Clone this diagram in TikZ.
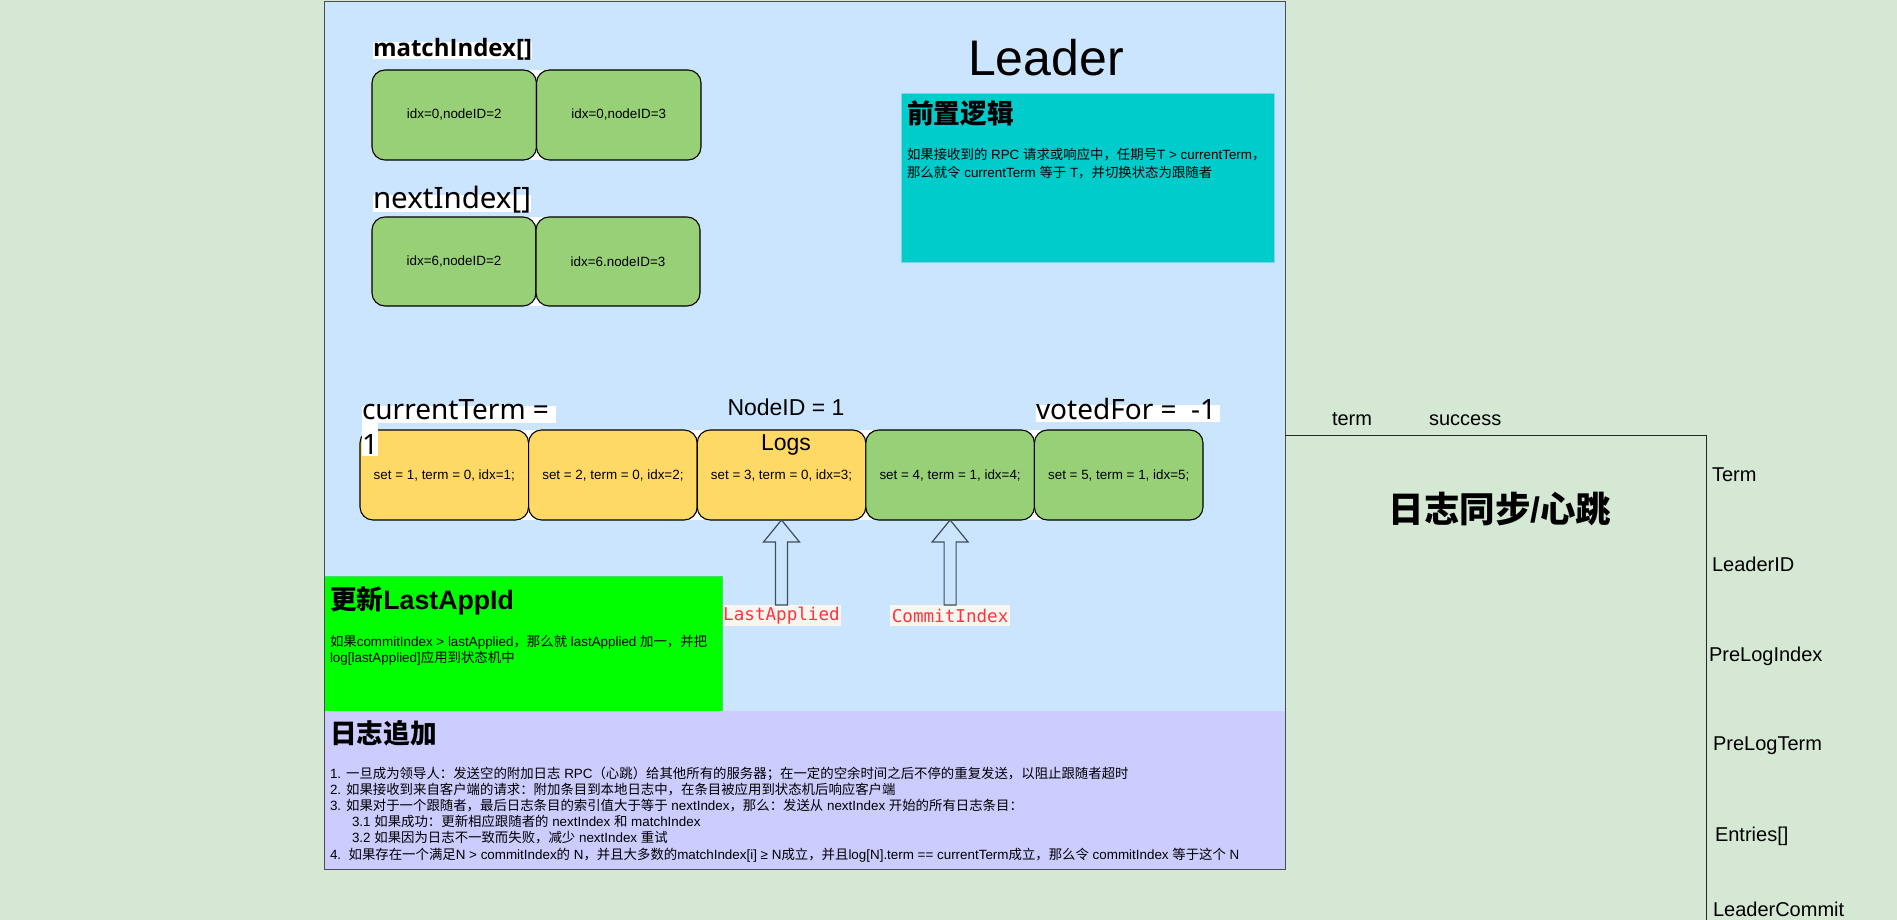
\documentclass[tikz,border=0pt]{standalone}
\usepackage{fontspec}
\setmainfont{Liberation Sans}
\newfontfamily\cjkfont{Noto Sans CJK SC}
\newfontfamily\latinfont{Liberation Sans}
\newfontfamily\uifont{Noto Sans}
\newfontfamily\uiboldfont{Open Sans}
\newfontfamily\codefont{DejaVu Sans Mono}
% automatic switch to the CJK font for CJK characters
\XeTeXinterchartokenstate=1
\newcount\cjkcnt
\def\setcjkrange#1#2{\cjkcnt=#1\relax
  \loop\ifnum\cjkcnt<#2\relax
    \XeTeXcharclass\cjkcnt=7\relax
    \advance\cjkcnt by 1\relax
  \repeat}
\setcjkrange{"4E00}{"A000}
\setcjkrange{"3000}{"3040}
\setcjkrange{"FF00}{"FFF0}
\XeTeXinterchartoks 0 7 = {\cjkfont}
\XeTeXinterchartoks 4095 7 = {\cjkfont}
\XeTeXinterchartoks 7 0 = {\latinfont}
\XeTeXinterchartoks 7 4095 = {\latinfont}

\definecolor{bgc}{HTML}{D5E8D4}
\definecolor{leaderfill}{HTML}{CCE5FF}
\definecolor{leaderdraw}{HTML}{4A4D52}
\definecolor{cellgreen}{HTML}{97D077}
\definecolor{cellyellow}{HTML}{FFD966}
\definecolor{cyanbox}{HTML}{00CCCC}
\definecolor{cyanedge}{HTML}{80D4E8}
\definecolor{limebox}{HTML}{00FF00}
\definecolor{limeedge}{HTML}{44DD66}
\definecolor{purplebox}{HTML}{CCCCFF}
\definecolor{codered}{HTML}{FF3340}
\definecolor{codebg}{HTML}{F8F6EE}
\definecolor{arrowc}{HTML}{3D4D5C}

\newcommand\fsz[2]{\fontsize{#1}{#2}\selectfont}
\newcommand\hlt[3]{\setbox0=\hbox{#3}\rlap{\smash{\textcolor{white}{\rule[-#2pt]{\wd0}{\dimexpr#1pt+#2pt\relax}}}}\box0}
\newcommand\mlines[1]{\vtop{\let\\\cr\halign{##\hfil\cr#1\crcr}}}

\begin{document}
\begin{tikzpicture}[x=1pt,y=-1pt,
  every node/.style={inner sep=0pt,outer sep=0pt},
  logcell/.style={draw=black,line width=1.1pt,rounded corners=13pt,minimum height=90pt,font=\fsz{13.4}{16}},
  greencell/.style={logcell,fill=cellgreen},
  yellowcell/.style={logcell,fill=cellyellow,minimum width=168.6pt},
  boxtitle/.style={anchor=base west,font=\bfseries\fsz{26.7}{32}},
  boxbody/.style={anchor=base west,font=\fsz{13.4}{16.2}},
  rlabel/.style={anchor=base west,font=\fsz{20}{24}},
  codelabel/.style={fill=codebg,text=codered,font=\codefont\fsz{17.6}{21},minimum height=21pt,inner xsep=1.5pt},
  blockarrow/.style={draw=arrowc,fill=leaderfill,line width=1.2pt,line join=miter},
]
\useasboundingbox (0,0) rectangle (1897,920);
\fill[bgc] (0,0) rectangle (1897,920);

% Leader container
\node[fill=leaderfill,anchor=north west,minimum width=961pt,minimum height=867pt] (leader) at (324,2) {};

% pre logic box
\node[fill=cyanbox,draw=cyanedge,line width=0.8pt,anchor=north west,minimum width=373pt,minimum height=169pt] (pre) at (901,93) {};
\node[boxtitle] (pretitle) at (907,124) {前置逻辑};
\node[boxbody,font=\fsz{13.4}{17.2}] (prebody) at (907,160) {\mlines{如果接收到的 RPC 请求或响应中，任期号T > currentTerm，\\那么就令 currentTerm 等于 T，并切换状态为跟随者}};

\node[anchor=base,font=\fsz{50}{60}] (leadertitle) at (1046,76) {Leader};

% white gaps behind the cell rows
\fill[white] (454,70) rectangle (619,160);
\fill[white] (454,217) rectangle (618,306);
\fill[white] (444,430) rectangle (1119,520);

% matchIndex / nextIndex
\node[greencell,minimum width=164.5pt] (m1) at (454.25,115) {idx=0,nodeID=2};
\node[greencell,minimum width=164.5pt] (m2) at (618.75,115) {idx=0,nodeID=3};
\node[greencell,minimum width=164pt,minimum height=89pt] (n1) at (454,261.5) {idx=6,nodeID=2};
\node[greencell,minimum width=164pt,minimum height=89pt] (n2) at (618,261.5) {idx=6.nodeID=3};

\node[anchor=base west,font=\uiboldfont\bfseries\fsz{24}{28}] (mlabel) at (373,57) {\hlt{15}{2}{matchIndex[]}};
\node[anchor=base west,font=\uifont\fsz{29.5}{35}] (nlabel) at (373,208) {\hlt{13}{4}{nextIndex[]}};

% logs
\node[yellowcell] (c1) at (444.3,475) {set = 1, term = 0, idx=1;};
\node[yellowcell] (c2) at (612.9,475) {set = 2, term = 0, idx=2;};
\node[yellowcell] (c3) at (781.5,475) {set = 3, term = 0, idx=3;};
\node[greencell,minimum width=168.6pt] (c4) at (950.1,475) {set = 4, term = 1, idx=4;};
\node[greencell,minimum width=168.6pt] (c5) at (1118.7,475) {set = 5, term = 1, idx=5;};

\node[anchor=base west,font=\uifont\fsz{28}{35}] (ctlabel) at (362,419) {\begin{tabular}[t]{@{}l@{}}\hlt{13}{4}{currentTerm =\ }\\\hlt{31}{2}{1}\end{tabular}};
\node[anchor=base west,font=\uifont\fsz{28}{35}] (vflabel) at (1036,419) {\hlt{14}{3}{votedFor =\ \ -1\kern4pt}};
\node[anchor=base,font=\fsz{23}{35}] (nodeid) at (786,415) {\begin{tabular}[t]{@{}c@{}}NodeID = 1\\Logs\end{tabular}};

% pointers
\node[codelabel] (la) at (781.5,615.5) {LastApplied};
\node[codelabel] (ci) at (950.1,615.5) {CommitIndex};
\draw[blockarrow] (c3.south) -- ([xshift=18pt,yshift=-22pt]c3.south) -- ([xshift=6pt,yshift=-22pt]c3.south)
  -- ([xshift=6pt]c3.south |- la.north) -- ([xshift=-6pt]c3.south |- la.north)
  -- ([xshift=-6pt,yshift=-22pt]c3.south) -- ([xshift=-18pt,yshift=-22pt]c3.south) -- cycle;
\draw[blockarrow] (c4.south) -- ([xshift=18pt,yshift=-22pt]c4.south) -- ([xshift=6pt,yshift=-22pt]c4.south)
  -- ([xshift=6pt]c4.south |- ci.north) -- ([xshift=-6pt]c4.south |- ci.north)
  -- ([xshift=-6pt,yshift=-22pt]c4.south) -- ([xshift=-18pt,yshift=-22pt]c4.south) -- cycle;

% update lastApplied
\node[fill=limebox,draw=limeedge,line width=0.8pt,anchor=north west,minimum width=398pt,minimum height=135pt] (upd) at (324,576) {};
\node[boxtitle] (updtitle) at (330,609) {更新LastAppId};
\node[boxbody] (updbody) at (330,646) {\mlines{如果commitIndex > lastApplied，那么就 lastApplied 加一，并把\\log[lastApplied]应用到状态机中}};

% log append
\node[fill=purplebox,anchor=north west,minimum width=961pt,minimum height=158pt] (append) at (324,711) {};
\node[boxtitle] (apptitle) at (330,743) {日志追加};
\node[boxbody] (appbody) at (330,778) {\mlines{1. 一旦成为领导人：发送空的附加日志 RPC（心跳）给其他所有的服务器；在一定的空余时间之后不停的重复发送，以阻止跟随者超时\\
2. 如果接收到来自客户端的请求：附加条目到本地日志中，在条目被应用到状态机后响应客户端\\
3. 如果对于一个跟随者，最后日志条目的索引值大于等于 nextIndex，那么：发送从 nextIndex 开始的所有日志条目：\\
\hskip22pt 3.1 如果成功：更新相应跟随者的 nextIndex 和 matchIndex\\
\hskip22pt 3.2 如果因为日志不一致而失败，减少 nextIndex 重试\\
4.\ \ 如果存在一个满足N > commitIndex的 N，并且大多数的matchIndex[i] ≥ N成立，并且log[N].term == currentTerm成立，那么令 commitIndex 等于这个 N}};

\draw[leaderdraw,line width=1pt] (leader.north west) rectangle (leader.south east);

% RPC structure on the right
\node[rlabel] (rterm) at (1332,425) {term};
\node[rlabel] (rsucc) at (1429,425) {success};
\coordinate (corner) at (1706,435);
\draw[line width=1pt,black!85] (leader.east |- corner) -- (corner) -- (corner |- 0,920);
\node[anchor=base,font=\bfseries\fsz{35.5}{42}] (sync) at (1500,522) {日志同步/心跳};
\node[rlabel] (f1) at (1712,481) {Term};
\node[rlabel] (f2) at (1712,571) {LeaderID};
\node[rlabel] (f3) at (1709,661) {PreLogIndex};
\node[rlabel] (f4) at (1713,750) {PreLogTerm};
\node[rlabel] (f5) at (1715,841) {Entries[]};
\node[rlabel] (f6) at (1713,916) {LeaderCommit};
\end{tikzpicture}
\end{document}
